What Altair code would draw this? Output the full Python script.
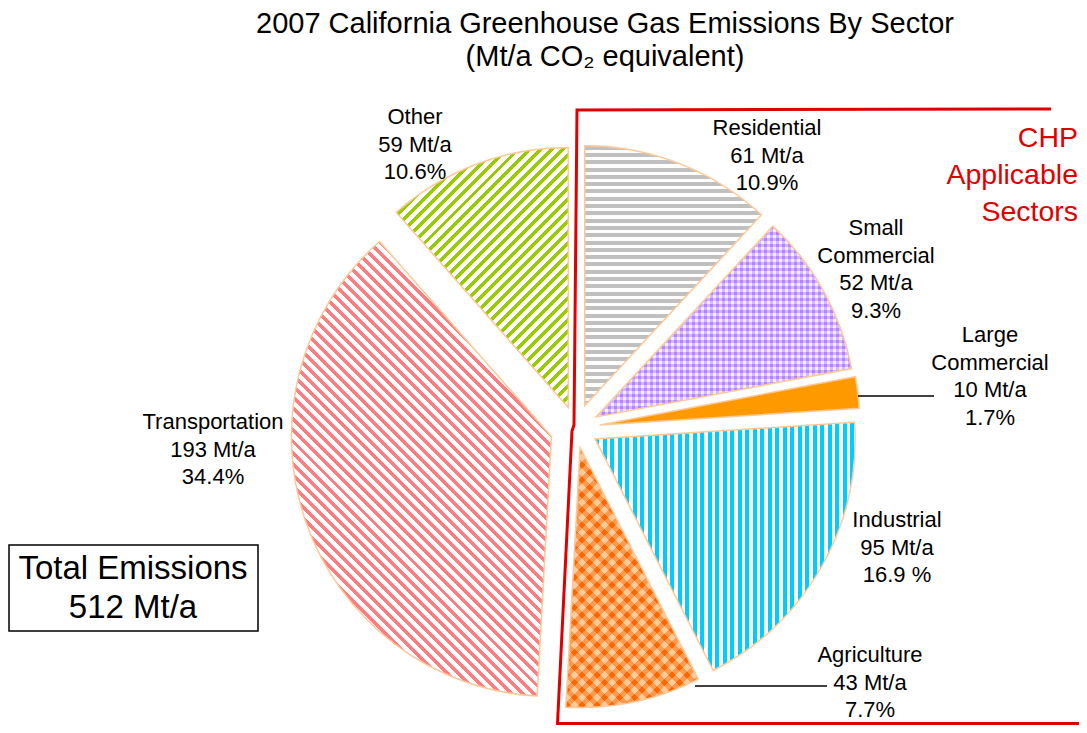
import math
import altair as alt
import pandas as pd

# ---------------- data ----------------
sectors = ["Residential", "Small Commercial", "Large Commercial", "Industrial",
           "Agriculture", "Transportation", "Other"]
emissions = [61, 52, 10, 95, 43, 193, 59]          # Mt/a
shares = ["10.9%", "9.3%", "1.7%", "16.9 %", "7.7%", "34.4%", "10.6%"]
title_lines = ["2007 California Greenhouse Gas Emissions By Sector", "(Mt/a CO\u2082 equivalent)"]
total_lines = ["Total Emissions", "512 Mt/a"]
chp_lines = ["CHP", "Applicable", "Sectors"]

# ---------------- layout / style ----------------
W, H, M = 1071, 717, 8
def px(v):
    return v - M

CX, CY, R = 576, 428, 260
explode = {"Residential": 24, "Small Commercial": 23, "Large Commercial": 24, "Industrial": 22,
           "Agriculture": 20, "Transportation": 26, "Other": 22}
label_pos = {"Residential": (767, 135), "Small Commercial": (876, 235), "Large Commercial": (990, 342),
             "Industrial": (897, 527), "Agriculture": (870, 662), "Transportation": (213, 429),
             "Other": (415, 124)}
FONT = "Liberation Sans"
EDGE = "#ffc896"
RED = "#e00000"

def bbox(f0, f1, r):
    a0, a1 = 2 * math.pi * f0, 2 * math.pi * f1
    pts = [(0, 0), (r * math.sin(a0), -r * math.cos(a0)), (r * math.sin(a1), -r * math.cos(a1))]
    for k in range(5):
        a = k * math.pi / 2
        if a0 < a < a1:
            pts.append((r * math.sin(a), -r * math.cos(a)))
    xs = [p[0] for p in pts]
    ys = [p[1] for p in pts]
    return max(xs) - min(xs), max(ys) - min(ys)

def stripes(color, bg, period, frac, kind, w, h):
    if kind == "h":
        x1, y1, x2, y2, length = 0, 0, 0, 1, h
    elif kind == "v":
        x1, y1, x2, y2, length = 0, 0, 1, 0, w
    else:
        c = (1 / h + 1 / w) / (1 / h ** 2 + 1 / w ** 2)
        length = (w + h) / math.sqrt(2)
        if kind == "/":
            x1, y1, x2, y2 = 0, 0, c / h, c / w
        else:
            x1, y1, x2, y2 = 0, 1, c / h, 1 - c / w
    stops = []
    k = 0
    while k * period < length:
        o0 = k * period / length
        o1 = min((k + frac) * period / length, 1.0)
        o2 = min((k + 1) * period / length, 1.0)
        stops += [{"offset": o0, "color": color}, {"offset": o1, "color": color},
                  {"offset": o1, "color": bg}, {"offset": o2, "color": bg}]
        k += 1
    return {"gradient": "linear", "x1": x1, "y1": y1, "x2": x2, "y2": y2, "stops": stops}

total = sum(emissions)
fr = []
acc = 0
for v in emissions:
    fr.append((acc / total, (acc + v) / total))
    acc += v
boxes = {s: bbox(a, b, R) for s, (a, b) in zip(sectors, fr)}

def fills(s):
    w, h = boxes[s]
    if s == "Residential":
        return [(stripes("#c0c0c0", "#ffffff", 7.3, 0.55, "h", w, h), 1)]
    if s == "Small Commercial":
        return [(stripes("#b583ff", "#f4ecff", 6.0, 0.5, "v", w, h), 1),
                (stripes("#b583ff", "#f4ecff", 6.0, 0.5, "h", w, h), 0.5)]
    if s == "Large Commercial":
        return [("#ff9900", 1)]
    if s == "Industrial":
        return [(stripes("#00ccff", "#ffffff", 7.5, 0.55, "v", w, h), 1)]
    if s == "Agriculture":
        return [(stripes("#ff6600", "#ffcc99", 10.6, 0.5, "/", w, h), 1),
                (stripes("#ff6600", "#ffcc99", 10.6, 0.5, "\\", w, h), 0.5)]
    if s == "Transportation":
        return [(stripes("#ff7c80", "#ffffff", 7.8, 0.45, "\\", w, h), 1)]
    return [(stripes("#99cc00", "#ffffff", 7.8, 0.45, "/", w, h), 1)]

df = pd.DataFrame({"sector": sectors, "value": emissions, "share": shares,
                   "order": list(range(len(sectors)))})
df["label"] = [s.replace(" ", "\n") + "\n" + f"{v} Mt/a" + "\n" + p
               for s, v, p in zip(sectors, emissions, shares)]
df["lx"] = [px(label_pos[s][0]) for s in sectors]
df["ly"] = [px(label_pos[s][1]) for s in sectors]

base = alt.Chart(df).transform_joinaggregate(total="sum(value)").transform_window(
    cum="sum(value)", sort=[alt.SortField("order")], frame=[None, 0]
).transform_calculate(
    f0="(datum.cum - datum.value) / datum.total",
    f1="datum.cum / datum.total",
)

theta_scale = alt.Scale(domain=[0, 1], range=[0, 2 * math.pi])
layers = []
for s in sectors:
    off = explode[s]
    sl = base.transform_filter(alt.datum.sector == s).transform_calculate(
        cx=f"{px(CX)} + {off} * sin(PI * (datum.f0 + datum.f1))",
        cy=f"{px(CY)} - {off} * cos(PI * (datum.f0 + datum.f1))",
    )
    enc = dict(
        x=alt.X("cx:Q", scale=None, axis=None),
        y=alt.Y("cy:Q", scale=None, axis=None),
        theta=alt.Theta("f0:Q", scale=theta_scale),
        theta2="f1:Q",
    )
    fl = fills(s)
    for i, (f, op) in enumerate(fl):
        last = i == len(fl) - 1
        kw = dict(radius=R, fill=f, fillOpacity=op)
        if last:
            kw.update(stroke=EDGE, strokeWidth=1.5)
        layers.append(sl.mark_arc(**kw).encode(**enc))

labels = alt.Chart(df).mark_text(
    font=FONT, fontSize=22, lineBreak="\n", lineHeight=27.5, align="center",
    baseline="alphabetic", color="#000000"
).encode(x=alt.X("lx:Q", scale=None, axis=None), y=alt.Y("ly:Q", scale=None, axis=None),
         text="label:N")
layers.append(labels)

one = alt.Data(values=[{"a": 1}])

def text_layer(txt, x, y, size, color="#000000", align="center"):
    return alt.Chart(one).mark_text(
        text=txt, font=FONT, fontSize=size, align=align, baseline="alphabetic", color=color
    ).encode(x=alt.value(px(x)), y=alt.value(px(y)))

layers.append(text_layer(title_lines[0], 605, 33, 29))
layers.append(text_layer(title_lines[1], 605, 66, 29))

# leader lines
for (x0, x1, y) in [(858, 934, 396), (695, 827, 686)]:
    layers.append(alt.Chart(one).mark_rule(color="#000000", strokeWidth=1.3).encode(
        x=alt.value(px(x0)), x2=alt.value(px(x1)), y=alt.value(px(y))))

# CHP applicable sectors frame
frame_x = [1051, 577, 574, 572, 557.5, 1100]
frame_y = [109, 110, 425, 431, 723.5, 723.5]
frame = pd.DataFrame({"x": [px(v) for v in frame_x], "y": [px(v) for v in frame_y],
                      "o": list(range(len(frame_x)))})
layers.append(alt.Chart(frame).mark_line(color=RED, strokeWidth=3, strokeJoin="miter").encode(
    x=alt.X("x:Q", scale=None, axis=None), y=alt.Y("y:Q", scale=None, axis=None), order="o:Q"))
for i, t in enumerate(chp_lines):
    layers.append(text_layer(t, 1078, 147 + 37 * i, 28.5, color=RED, align="right"))

# total emissions box
layers.append(alt.Chart(one).mark_rect(fill="#ffffff", stroke="#000000", strokeWidth=1.5).encode(
    x=alt.value(px(9)), x2=alt.value(px(258)), y=alt.value(px(545)), y2=alt.value(px(631))))
layers.append(text_layer(total_lines[0], 133, 579, 33))
layers.append(text_layer(total_lines[1], 133, 618, 33))

chart = alt.layer(*layers).properties(
    width=W, height=H, padding=0, autosize=alt.AutoSizeParams(type="none"),
    background="#ffffff"
).configure_view(strokeWidth=0)

chart.save("out.html", embed_options={"renderer": "svg", "actions": False})
